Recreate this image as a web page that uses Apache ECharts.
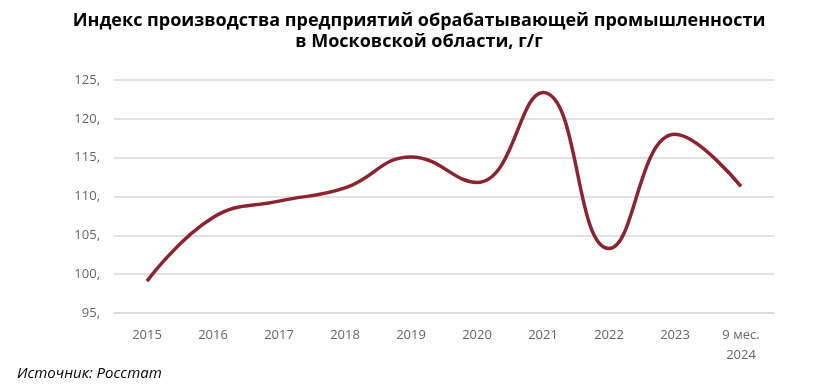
<!DOCTYPE html>
<html><head><meta charset="utf-8">
<script src="https://cdn.jsdelivr.net/npm/echarts@6/dist/echarts.min.js"></script>
<style>html,body{margin:0;padding:0;background:#fff;}#c{width:838px;height:388px;}</style>
</head><body><div id="c"></div>
<script>
const categories = ['2015','2016','2017','2018','2019','2020','2021','2022','2023','9 мес.\n2024'];
const values = [99.1, 107.3, 109.4, 111.1, 115.1, 111.8, 123.4, 103.3, 118.0, 111.3];
const titleText = 'Индекс производства предприятий обрабатывающей промышленности\nв Московской области, г/г';
const sourceText = 'Источник: Росстат';

const chart = echarts.init(document.getElementById('c'));
chart.setOption({
  animation: false,
  title: {
    text: titleText, left: 'center', top: 5,
    textStyle: {fontFamily: 'Open Sans', fontWeight: 'bold', fontSize: 18, color: '#000', lineHeight: 21, align: 'center'}
  },
  graphic: [{type: 'text', left: 17, top: 366, style: {text: sourceText, font: 'italic 15px "Open Sans"', fill: '#000'}}],
  grid: {left: 114, right: 64, top: 80, bottom: 75},
  xAxis: {
    type: 'category', data: categories, boundaryGap: true,
    axisLine: {show: true, lineStyle: {color: '#d9d9d9', width: 1.5}},
    axisTick: {show: false},
    axisLabel: {color: '#666', fontFamily: 'Open Sans', fontSize: 13, margin: 12, lineHeight: 20}
  },
  yAxis: {
    type: 'value', min: 95, max: 125, interval: 5,
    axisLine: {show: false}, axisTick: {show: false},
    splitLine: {lineStyle: {color: '#d9d9d9', width: 1.5}},
    axisLabel: {color: '#666', fontFamily: 'Open Sans', fontSize: 13, margin: 14, formatter: v => v + ','}
  },
  series: [{
    type: 'line', data: values, smooth: 0.45, showSymbol: false,
    lineStyle: {color: '#8b2331', width: 3.5}
  }]
});
</script></body></html>
